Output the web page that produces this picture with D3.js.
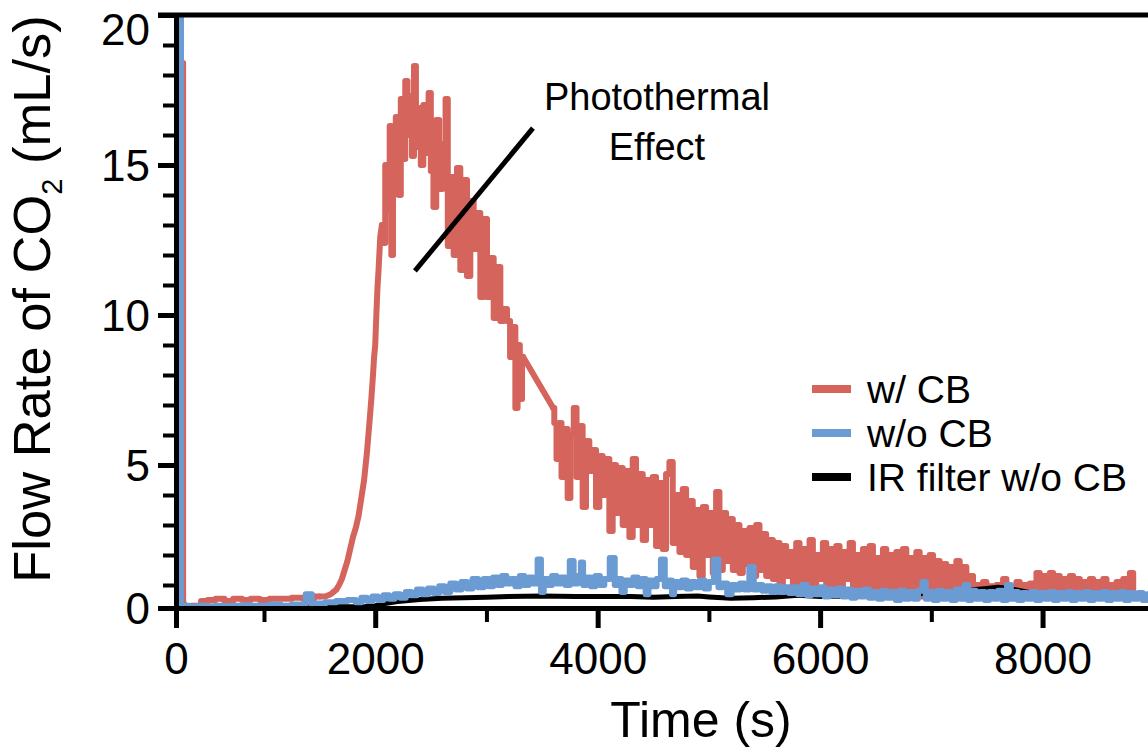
<!DOCTYPE html>
<html>
<head>
<meta charset="utf-8">
<script src="https://cdn.jsdelivr.net/npm/d3@7"></script>
<style>
  body { margin: 0; background: #fff; }
  svg text { font-family: "Liberation Sans", Arial, sans-serif; fill: #000; }
</style>
</head>
<body>
<div id="chart"></div>
<script>
// tick values
const xMajor = [0, 2000, 4000, 6000, 8000];
const xMinor = [1000, 3000, 5000, 7000, 9000];
const yMajor = [0, 5, 10, 15, 20];
const yMinor = [1, 2, 3, 4, 6, 7, 8, 9, 11, 12, 13, 14, 16, 17, 18, 19];

const seriesNames = ['w/ CB', 'w/o CB', 'IR filter w/o CB'];
const seriesColors = ['#d4645c', '#6a9bd3', '#000000'];

// [time (s), flow rate (mL/s)]
const withCB = [
  [0,0.1],[40,0.1],[78,0.1],[80,18.4],[82,0.2],[100,0.05],[250,0.1],[320,0.3],[400,0.35],[500,0.4],
  [600,0.3],[700,0.4],[800,0.35],[900,0.4],[1000,0.35],[1100,0.4],[1200,0.4],[1300,0.45],[1400,0.4],
  [1500,0.5],[1550,0.5],[1600,0.6],[1625,0.7],[1650,0.8],[1675,1.0],[1700,1.2],[1725,1.5],[1750,1.8],
  [1775,2.2],[1800,2.6],[1825,2.9],[1850,3.3],[1875,3.9],[1900,4.5],[1925,5.4],[1950,6.5],[1965,7.2],
  [1980,8.0],[1990,8.6],[2000,9.0],[2010,10.0],[2020,10.9],[2030,11.5],[2045,12.6],[2060,13.0],
  [2080,12.4],[2100,15.0],[2120,13.5],[2140,16.3],
  [2150,12.0],[2170,15.5],[2200,16.6],[2220,14.0],[2240,17.2],[2260,15.2],[2280,17.8],[2300,16.0],
  [2320,17.3],[2340,15.3],[2357,18.3],[2375,15.6],[2400,16.9],[2420,15.0],[2445,17.0],[2470,15.4],
  [2490,17.4],[2510,14.8],[2537,13.6],[2560,16.5],[2590,14.2],[2620,15.7],[2645,17.2],[2660,12.3],
  [2690,14.6],[2720,12.0],[2750,14.9],[2780,11.5],[2810,14.5],[2840,11.3],[2870,13.8],[2900,12.2],
  [2930,13.4],[2960,10.6],[2990,13.2],[3020,10.6],[3050,11.9],[3080,9.9],[3110,11.6],[3140,9.8],
  [3170,10.2],[3200,9.8],[3225,8.6],[3250,9.6],[3270,6.9],[3290,9.0],[3310,7.2],[3330,8.6],
  [3600,6.9],
  [3620,6.4],[3640,5.2],[3660,6.4],[3690,4.6],[3720,6.2],[3740,3.9],[3770,6.0],[3800,6.9],[3820,4.6],
  [3850,6.3],[3880,3.6],[3910,5.8],[3940,4.8],[3970,5.5],[4000,3.6],[4030,5.3],[4060,4.0],[4090,5.2],
  [4120,2.8],[4150,5.0],[4180,3.4],[4210,4.9],[4240,3.0],[4270,4.8],[4300,2.6],[4330,5.2],[4360,3.0],
  [4390,4.7],[4420,2.5],[4450,4.5],[4480,3.0],[4510,4.6],[4540,2.3],[4570,4.4],[4600,2.2],[4630,4.7],
  [4660,5.1],[4690,2.4],[4720,4.0],[4750,2.1],[4780,4.2],[4810,2.0],[4840,3.8],[4870,1.6],[4900,3.5],
  [4930,1.3],[4960,3.6],[4990,2.0],[5020,3.4],[5050,1.4],[5080,4.1],[5110,1.5],[5140,3.4],[5170,1.8],
  [5200,3.2],[5230,1.5],[5260,3.0],[5290,1.4],[5320,2.8],[5350,1.7],[5380,2.9],[5410,1.3],[5440,3.0],
  [5470,1.5],[5500,2.7],[5530,1.3],[5560,2.5],[5590,1.2],[5620,2.4],[5650,1.0],[5680,2.3],[5710,1.3],
  [5740,2.1],[5770,0.9],[5800,2.4],[5830,1.1],[5860,2.2],[5890,1.0],[5920,2.5],[5950,0.9],[5980,2.0],
  [6010,1.2],[6040,2.4],[6070,0.8],[6100,2.2],[6130,1.0],[6160,2.3],[6190,0.7],[6220,2.1],[6250,1.2],
  [6280,2.4],[6310,0.8],[6340,2.0],[6370,1.0],[6400,2.2],[6430,0.7],[6460,2.3],[6490,0.9],[6520,1.9],
  [6550,0.6],[6580,2.2],[6610,0.8],[6640,2.0],[6670,0.5],[6700,2.1],[6730,0.7],[6760,2.2],[6790,0.6],
  [6820,1.9],[6850,0.8],[6880,2.1],[6910,0.5],[6940,1.9],[6970,0.7],[7000,2.0],[7030,0.6],[7060,1.8],
  [7090,0.5],[7120,1.7],[7150,0.7],[7180,1.6],[7210,0.5],[7240,1.8],[7270,0.6],[7300,1.6],[7330,0.5],
  [7360,1.3],[7390,0.7],[7420,1.0],[7450,0.5],[7480,1.1],[7510,0.7],[7540,0.95],[7570,0.5],[7600,1.0],
  [7630,0.6],[7660,1.2],[7690,0.5],[7720,0.9],[7750,0.6],[7780,1.1],[7810,0.5],[7840,1.0],[7870,0.6],
  [7900,1.05],[7930,0.5],[7960,1.4],[7990,0.6],[8020,1.3],[8050,0.5],[8080,1.4],[8110,0.6],[8140,1.3],
  [8170,0.5],[8200,1.2],[8230,0.6],[8260,1.3],[8290,0.5],[8320,1.2],[8350,0.6],[8380,1.1],[8410,0.5],
  [8440,1.2],[8470,0.6],[8500,1.1],[8530,0.5],[8560,1.2],[8590,0.6],[8620,1.0],[8650,0.5],[8680,1.1],
  [8710,0.6],[8740,1.2],[8770,0.5],[8800,1.4],[8830,0.6]
];

const withoutCB = [
  [0,0.1],[40,0.1],[52,0.1],[55,21],[58,0.1],[100,0.1],[200,0.05],[300,0.1],[400,0.08],[500,0.1],
  [600,0.08],[700,0.1],[800,0.12],[900,0.1],[1000,0.1],[1100,0.15],[1200,0.1],[1300,0.15],[1370,0.15],
  [1380,0.6],[1425,0.6],[1435,0.15],[1500,0.2],[1600,0.25],[1700,0.3],[1800,0.35],[1850,0.25],
  [1900,0.45],[1950,0.3],[2000,0.5],[2050,0.35],[2100,0.55],[2150,0.4],[2200,0.6],[2250,0.45],
  [2300,0.7],[2350,0.55],[2400,0.8],[2450,0.6],[2500,0.85],[2550,0.65],[2600,0.95],[2650,0.7],
  [2700,1.05],[2750,0.8],[2800,1.1],[2850,0.85],[2900,1.2],[2950,0.9],[3000,1.2],[3040,0.95],
  [3080,1.25],[3120,1.0],[3160,1.3],[3200,1.05],[3240,1.2],[3280,0.95],[3320,1.3],[3360,1.0],
  [3400,1.25],[3440,1.05],[3480,1.85],[3500,0.7],[3530,1.2],[3570,1.0],[3610,1.3],[3650,1.05],
  [3690,1.25],[3730,1.0],[3768,1.8],[3800,1.05],[3840,1.3],[3858,1.75],[3880,1.0],[3920,1.25],
  [3960,0.95],[4000,1.3],[4040,1.0],[4080,1.2],[4137,1.9],[4170,1.0],[4200,1.2],[4227,0.7],[4260,1.15],
  [4300,1.0],[4340,1.25],[4380,0.95],[4420,1.2],[4443,0.6],[4470,1.15],[4510,0.95],[4550,1.2],
  [4587,1.85],[4620,0.95],[4660,1.15],[4676,0.6],[4700,1.1],[4740,0.9],[4780,1.15],[4820,0.85],
  [4860,1.1],[4900,0.9],[4940,1.15],[4980,0.85],[5020,1.1],[5072,1.85],[5100,0.9],[5140,1.05],
  [5189,0.6],[5220,1.0],[5260,0.8],[5300,1.05],[5340,0.8],[5387,1.6],[5420,0.8],[5460,1.0],[5500,0.75],
  [5540,0.95],[5580,0.7],[5620,0.95],[5660,0.7],[5700,0.9],[5740,0.65],[5780,0.9],[5820,0.6],
  [5860,1.0],[5900,0.55],[5940,0.85],[5980,0.6],[6020,0.9],[6060,0.5],[6100,0.8],[6140,0.55],
  [6180,0.85],[6220,0.5],[6260,0.8],[6300,0.45],[6340,0.75],[6380,0.5],[6420,0.8],[6460,0.45],
  [6500,0.7],[6540,0.4],[6580,0.75],[6620,0.45],[6660,0.7],[6700,0.35],[6740,0.75],[6780,0.4],
  [6820,0.7],[6860,0.4],[6900,0.75],[6940,1.1],[6960,0.4],[7000,0.7],[7040,0.35],[7080,0.75],
  [7120,0.4],[7160,0.7],[7200,0.35],[7240,0.8],[7280,0.4],[7320,1.0],[7340,0.35],[7380,0.75],
  [7420,0.4],[7460,0.7],[7500,0.35],[7540,0.7],[7580,0.4],[7620,0.75],[7660,0.35],[7700,1.0],
  [7730,0.4],[7760,0.7],[7800,0.35],[7840,0.65],[7880,0.4],[7920,0.7],[7960,0.35],[8000,0.65],
  [8040,0.4],[8080,0.7],[8120,0.35],[8160,0.65],[8200,0.4],[8240,0.7],[8280,0.35],[8320,0.65],
  [8360,0.4],[8400,0.7],[8440,0.35],[8480,0.65],[8520,0.4],[8560,0.7],[8600,0.35],[8640,0.65],
  [8680,0.4],[8720,0.7],[8760,0.35],[8800,0.65],[8840,0.4],[8880,0.65],[8920,0.35],[8960,0.6],[9000,0.4]
];

const irFilter = [
  [0,0.02],[500,0.03],[1000,0.05],[1500,0.05],[1900,0.05],[2000,0.1],[2100,0.2],[2200,0.28],
  [2300,0.33],[2400,0.37],[2600,0.42],[2800,0.45],[3000,0.47],[3200,0.5],[3500,0.52],[3800,0.5],
  [4000,0.5],[4300,0.5],[4500,0.47],[4700,0.5],[4900,0.52],[5000,0.48],[5200,0.42],[5400,0.45],
  [5600,0.48],[5800,0.55],[6000,0.5],[6200,0.52],[6400,0.5],[6600,0.55],[6800,0.6],[7000,0.65],
  [7200,0.7],[7300,0.75],[7400,0.8],[7500,0.85],[7600,0.9],[7700,0.85],[7800,0.75],[7900,0.65],
  [8000,0.6],[8200,0.58],[8500,0.55],[8800,0.55],[9000,0.55]
];

// stretches of the red trace that are drawn as a plain line, not stepped
const smoothSpans = [[1500, 2060], [3330, 3600]];

// annotation (data units)
const noteLine = [[2357, 11.47], [3418, 16.23]];
const noteText = ['Photothermal', 'Effect'];
const noteAt = [[4533, 16.83], [4533, 15.17]];

const W = 1148, H = 752;
const svg = d3.select('#chart').append('svg').attr('width', W).attr('height', H);

// the first interval on each axis is drawn shorter in the original
const x = d3.scaleLinear().domain([0, 1000, 10000]).range([176, 264, 1265]);
const y = d3.scaleLinear().domain([0, 1, 20]).range([608, 585, 15]);

svg.append('clipPath').attr('id', 'plotClip')
  .append('rect').attr('x', 176).attr('y', 15).attr('width', W - 176).attr('height', 593);

const stepLine = d3.line().x(d => x(d[0])).y(d => y(d[1])).curve(d3.curveStep);
const smoothLine = d3.line().x(d => x(d[0])).y(d => y(d[1]));
const plot = svg.append('g').attr('clip-path', 'url(#plotClip)');

function drawTrace(data, color, width, gen) {
  plot.append('path')
    .datum(data)
    .attr('d', gen)
    .attr('fill', 'none')
    .attr('stroke', color)
    .attr('stroke-width', width)
    .attr('stroke-linejoin', 'round')
    .attr('stroke-linecap', 'round');
}

// red: split into stepped (noisy) and plain pieces
let cuts = [withCB[0][0]];
smoothSpans.forEach(s => { cuts.push(s[0], s[1]); });
cuts.push(withCB[withCB.length - 1][0]);
for (let k = 0; k < cuts.length - 1; k++) {
  const piece = withCB.filter(d => d[0] >= cuts[k] && d[0] <= cuts[k + 1]);
  drawTrace(piece, seriesColors[0], 6, k % 2 === 1 ? smoothLine : stepLine);
}
drawTrace(irFilter, seriesColors[2], 5, smoothLine);
drawTrace(withoutCB, seriesColors[1], 6, stepLine);

// axes
const fontFam = '"Liberation Sans", Arial, sans-serif';

const gxMinor = svg.append('g').attr('transform', 'translate(0,608)')
  .call(d3.axisBottom(x).tickValues(xMinor).tickSize(14).tickSizeOuter(0).tickFormat(''));
gxMinor.select('.domain').remove();
gxMinor.selectAll('line').attr('stroke-width', 4);

const gx = svg.append('g').attr('transform', 'translate(0,608)')
  .call(d3.axisBottom(x).tickValues(xMajor).tickSize(20).tickSizeOuter(0).tickFormat(d3.format('d')));
gx.attr('font-size', 44).attr('font-family', fontFam);
gx.select('.domain').attr('stroke-width', 5);
gx.selectAll('line').attr('stroke-width', 5);
gx.selectAll('text').attr('y', 66).attr('dy', null);

const gyMinor = svg.append('g').attr('transform', 'translate(176,0)')
  .call(d3.axisLeft(y).tickValues(yMinor).tickSize(13).tickSizeOuter(0).tickFormat(''));
gyMinor.select('.domain').remove();
gyMinor.selectAll('line').attr('stroke-width', 4);

const gy = svg.append('g').attr('transform', 'translate(176,0)')
  .call(d3.axisLeft(y).tickValues(yMajor).tickSize(18).tickSizeOuter(0).tickPadding(8));
gy.attr('font-size', 44).attr('font-family', fontFam);
gy.select('.domain').attr('stroke-width', 5);
gy.selectAll('line').attr('stroke-width', 5);
gy.selectAll('text').attr('dy', d => d === 20 ? '0.68em' : '0.35em');

// top frame line
svg.append('line')
  .attr('x1', 158).attr('x2', W)
  .attr('y1', y(20)).attr('y2', y(20))
  .attr('stroke', '#000').attr('stroke-width', 5);

// axis titles
svg.append('text')
  .attr('x', 701).attr('y', 737)
  .attr('text-anchor', 'middle')
  .style('font-size', '50px')
  .text('Time (s)');

const yt = svg.append('text')
  .attr('transform', 'translate(50,299) rotate(-90)')
  .attr('text-anchor', 'middle')
  .style('font-size', '52.5px');
yt.append('tspan').text('Flow Rate of CO');
yt.append('tspan').attr('dy', 12).style('font-size', '29px').text('2');
yt.append('tspan').attr('dy', -12).text(' (mL/s)');

// legend
const leg = svg.append('g');
[0, 1, 2].forEach((i) => {
  const ly = 389 + i * 44;
  leg.append('line')
    .attr('x1', 812).attr('x2', 851).attr('y1', ly).attr('y2', ly)
    .attr('stroke', seriesColors[i]).attr('stroke-width', 8);
  leg.append('text')
    .attr('x', 867).attr('y', ly).attr('dy', '0.36em')
    .style('font-size', '39px')
    .text(seriesNames[i]);
});

// annotation
svg.append('line')
  .attr('x1', x(noteLine[0][0])).attr('y1', y(noteLine[0][1]))
  .attr('x2', x(noteLine[1][0])).attr('y2', y(noteLine[1][1]))
  .attr('stroke', '#000').attr('stroke-width', 5);
noteText.forEach((t, i) => {
  svg.append('text')
    .attr('x', x(noteAt[i][0])).attr('y', y(noteAt[i][1]))
    .attr('text-anchor', 'middle')
    .style('font-size', '38px')
    .text(t);
});
</script>
</body>
</html>
